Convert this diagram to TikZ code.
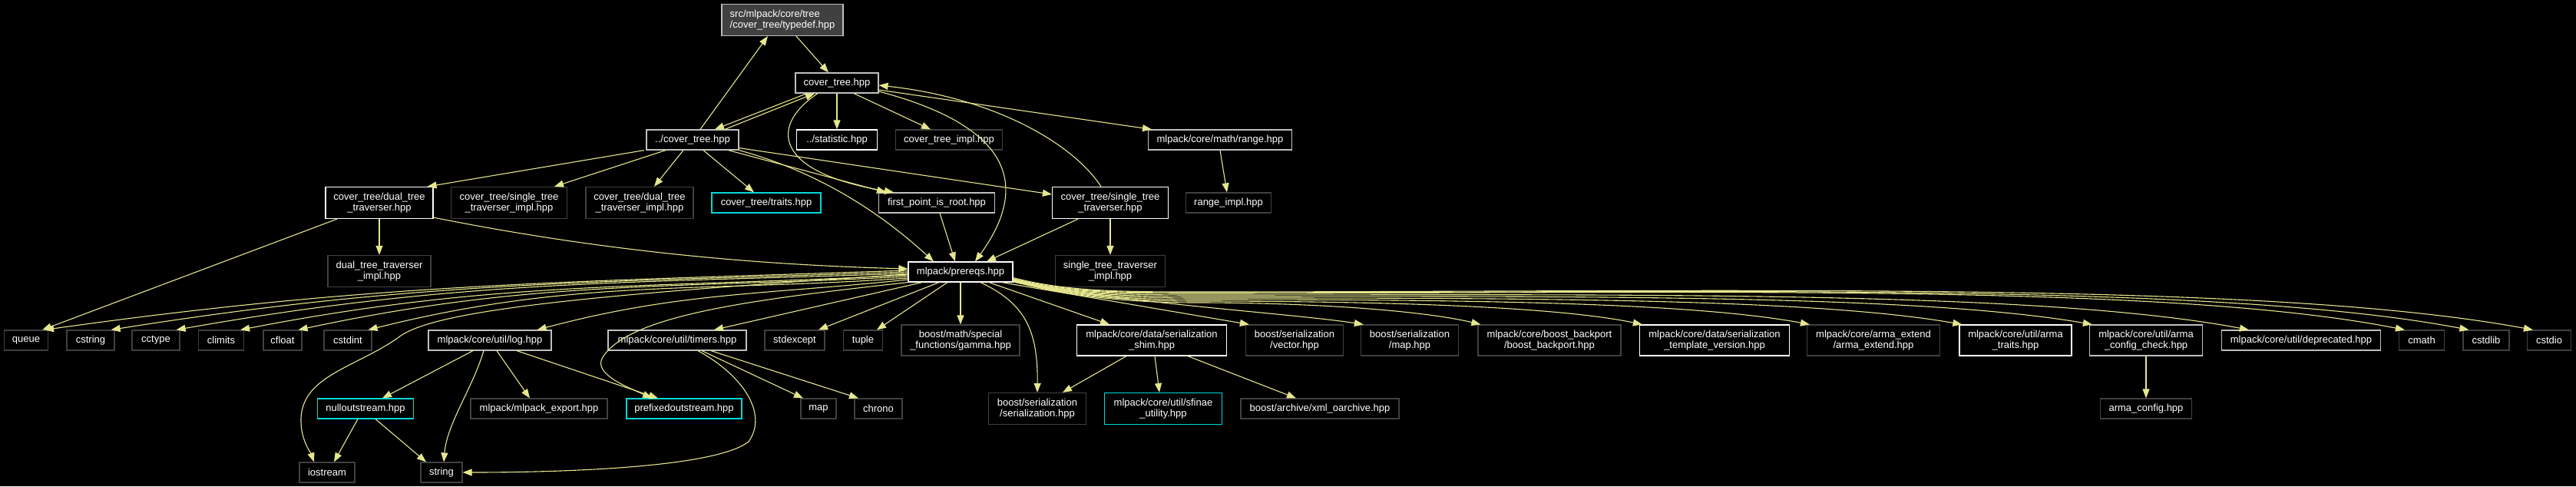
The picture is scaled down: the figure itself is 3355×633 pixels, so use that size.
\documentclass[tikz,border=0pt]{standalone}
\usepackage{fontspec}
\setmainfont{Liberation Sans}
\usetikzlibrary{arrows.meta,calc}
\definecolor{edgec}{HTML}{E6E68F}
\definecolor{gdark}{HTML}{404040}
\definecolor{glight}{HTML}{BFBFBF}
\definecolor{cyanb}{HTML}{00D8D8}
\begin{document}
\begin{tikzpicture}[x=1pt,y=1pt,
  box/.style={draw, fill=black, text=white, line width=1.2pt, inner xsep=1pt, inner ysep=1pt, minimum height=26pt, align=center, font=\fontsize{13}{14}\selectfont},
  two/.style={minimum height=41pt},
  wh/.style={draw=white}, lg/.style={draw=glight}, dk/.style={draw=gdark}, cy/.style={draw=cyanb},
  root/.style={fill=gdark, draw=glight, align=left},
  e/.style={draw=edgec, line width=1.1pt, -{Triangle[length=12pt,width=9pt]}}]
\fill[black] (0,0) rectangle (3355,-633);
\useasboundingbox (0,0) rectangle (3355,-633);
% rank 1-3
\node[box,root,two,minimum width=158pt] (typedef) at (1019,-26) {src/mlpack/core/tree\\/cover\_tree/typedef.hpp};
\node[box,lg,minimum width=108pt] (covertree) at (1090,-108) {cover\_tree.hpp};
\node[box,lg,minimum width=120pt] (ucover) at (902,-182) {../cover\_tree.hpp};
\node[box,wh,minimum width=105pt] (statistic) at (1090,-182) {../statistic.hpp};
\node[box,dk,minimum width=139pt] (ctimpl) at (1236,-182) {cover\_tree\_impl.hpp};
\node[box,lg,minimum width=187pt] (range) at (1589,-182) {mlpack/core/math/range.hpp};
% rank 4
\node[box,wh,two,minimum width=140pt] (dtt) at (494,-264) {cover\_tree/dual\_tree\\\_traverser.hpp};
\node[box,dk,two,minimum width=151pt] (stti) at (663,-264) {cover\_tree/single\_tree\\\_traverser\_impl.hpp};
\node[box,dk,two,minimum width=140pt] (dtti) at (833,-264) {cover\_tree/dual\_tree\\\_traverser\_impl.hpp};
\node[box,cy,minimum width=142pt] (traits) at (998,-264) {cover\_tree/traits.hpp};
\node[box,lg,minimum width=151pt] (fpr) at (1220,-264) {first\_point\_is\_root.hpp};
\node[box,wh,two,minimum width=151pt] (stt) at (1446,-264) {cover\_tree/single\_tree\\\_traverser.hpp};
\node[box,dk,minimum width=111pt] (rangeimpl) at (1600,-264) {range\_impl.hpp};
% rank 5
\node[box,dk,two,minimum width=134pt] (dttimpl) at (494,-353) {dual\_tree\_traverser\\\_impl.hpp};
\node[box,wh,minimum width=136pt] (prereqs) at (1251,-354) {mlpack/prereqs.hpp};
\node[box,dk,two,minimum width=143pt] (sttimpl) at (1446,-353) {single\_tree\_traverser\\\_impl.hpp};
% rank 6
\node[box,dk,minimum width=57pt] (queue) at (34,-443) {queue};
\node[box,dk,minimum width=62pt] (cstring) at (118,-443) {cstring};
\node[box,dk,minimum width=62pt] (cctype) at (203,-443) {cctype};
\node[box,dk,minimum width=59pt] (climits) at (288,-443) {climits};
\node[box,dk,minimum width=50pt] (cfloat) at (368,-443) {cfloat};
\node[box,dk,minimum width=62pt] (cstdint) at (453,-443) {cstdint};
\node[box,lg,minimum width=160pt] (log) at (638,-443) {mlpack/core/util/log.hpp};
\node[box,lg,minimum width=180pt] (timers) at (882,-443) {mlpack/core/util/timers.hpp};
\node[box,dk,minimum width=78pt] (stdexcept) at (1035,-443) {stdexcept};
\node[box,dk,minimum width=51pt] (tuple) at (1124,-443) {tuple};
\node[box,dk,minimum height=40pt,minimum width=154pt] (gamma) at (1251,-443) {boost/math/special\\\_functions/gamma.hpp};
\node[box,wh,minimum height=40pt,minimum width=195pt] (shim) at (1500,-443) {mlpack/core/data/serialization\\\_shim.hpp};
\node[box,dk,minimum height=40pt,minimum width=127pt] (vector) at (1686,-443) {boost/serialization\\/vector.hpp};
\node[box,dk,minimum height=40pt,minimum width=127pt] (bmap) at (1836,-443) {boost/serialization\\/map.hpp};
\node[box,dk,minimum height=40pt,minimum width=186pt] (backport) at (2018,-443) {mlpack/core/boost\_backport\\/boost\_backport.hpp};
\node[box,wh,minimum height=40pt,minimum width=195pt] (tplver) at (2233,-443) {mlpack/core/data/serialization\\\_template\_version.hpp};
\node[box,dk,minimum height=40pt,minimum width=173pt] (armaext) at (2440,-443) {mlpack/core/arma\_extend\\/arma\_extend.hpp};
\node[box,wh,minimum height=40pt,minimum width=146pt] (armatraits) at (2625,-443) {mlpack/core/util/arma\\\_traits.hpp};
\node[box,lg,minimum height=40pt,minimum width=147pt] (armacc) at (2795,-443) {mlpack/core/util/arma\\\_config\_check.hpp};
\node[box,lg,minimum width=207pt] (deprecated) at (2997,-443) {mlpack/core/util/deprecated.hpp};
\node[box,dk,minimum width=59pt] (cmath) at (3154,-443) {cmath};
\node[box,dk,minimum width=60pt] (cstdlib) at (3238,-443) {cstdlib};
\node[box,dk,minimum width=57pt] (cstdio) at (3320,-443) {cstdio};
% rank 7
\node[box,cy,minimum width=125pt] (nullout) at (476,-532) {nulloutstream.hpp};
\node[box,dk,minimum width=178pt] (mlexport) at (702,-532) {mlpack/mlpack\_export.hpp};
\node[box,cy,minimum width=150pt] (prefixed) at (891,-532) {prefixedoutstream.hpp};
\node[box,dk,minimum width=46pt] (map) at (1066,-532) {map};
\node[box,dk,minimum width=62pt] (chrono) at (1144,-532) {chrono};
\node[box,dk,two,minimum width=127pt] (serial) at (1351,-532) {boost/serialization\\/serialization.hpp};
\node[box,cy,two,minimum width=153pt] (sfinae) at (1515,-532) {mlpack/core/util/sfinae\\\_utility.hpp};
\node[box,dk,minimum width=206pt] (xml) at (1719,-532) {boost/archive/xml\_oarchive.hpp};
\node[box,dk,minimum width=119pt] (armaconfig) at (2795,-532) {arma\_config.hpp};
% rank 8
\node[box,dk,minimum width=72pt] (iostream) at (426,-615) {iostream};
\node[box,dk,minimum width=54pt] (string) at (575,-615) {string};

% ---- edges, top
\draw[e] ([xshift=18pt]typedef.south) -- ([xshift=-11pt]covertree.north);
\draw[e] ([xshift=10pt]ucover.north) -- ([xshift=-19pt]typedef.south);
\draw[e] ([xshift=-39pt]covertree.south) -- ([xshift=29pt]ucover.north);
\draw[e] ([xshift=42pt]ucover.north) -- ([xshift=-29pt]covertree.south);
\draw[e] (covertree.south) -- (statistic.north);
\draw[e] ([xshift=22pt]covertree.south) -- ([xshift=-24pt]ctimpl.north);
\draw[e] ([yshift=-9pt]covertree.east) -- ([xshift=-89pt]range.north);
\draw[e] ([xshift=-12pt]stt.north) .. controls (1400,-190) and (1300,-128) .. ([yshift=-3pt]covertree.east);
\draw[e] ([yshift=-11pt]covertree.east) .. controls (1300,-160) and (1350,-230) .. ([xshift=19pt]prereqs.north);
\draw[e] ([xshift=-25pt]covertree.south) .. controls (1000,-165) and (1010,-225) .. ([xshift=-56pt]fpr.north);
% from ../cover_tree.hpp
\draw[e] ([xshift=-63pt]ucover.south) -- ([xshift=-8pt]dtt.north east);
\draw[e] ([xshift=-35pt]ucover.south) -- ([xshift=59pt]stti.north);
\draw[e] ([xshift=-12pt]ucover.south) -- ([xshift=19pt]dtti.north);
\draw[e] ([xshift=14pt]ucover.south) -- ([xshift=-16pt]traits.north);
\draw[e] ([xshift=-14pt]ucover.south east) -- ([xshift=-66pt]fpr.north);
\draw[e] ([yshift=3pt]ucover.south east) -- ([yshift=11pt]stt.west);
\draw[e] (ucover.south east) .. controls (1070,-225) and (1150,-280) .. ([xshift=-35pt]prereqs.north);
% rank 4 -> 5
\draw[e] (dtt.south) -- (dttimpl.north);
\draw[e] ([yshift=2pt]dtt.south east) .. controls (800,-330) and (1000,-345) .. ([yshift=4pt]prereqs.west);
\draw[e] ([xshift=-55pt]dtt.south) -- ([xshift=-8pt]queue.north east);
\draw[e] ([xshift=4pt]fpr.south) -- ([xshift=-7pt]prereqs.north);
\draw[e] ([xshift=-42pt]stt.south) -- ([xshift=34pt]prereqs.north);
\draw[e] (stt.south) -- (sttimpl.north);
\draw[e] (range.south) -- ([xshift=-2pt]rangeimpl.north);
% prereqs left fan
\draw[e] ([yshift=2pt]prereqs.west) .. controls +(-439,-15) and +(433,61) .. ([xshift=-5pt]queue.north east);
\draw[e] ([yshift=0pt]prereqs.west) .. controls +(-407,-14) and +(402,64) .. ([xshift=-5pt]cstring.north east);
\draw[e] ([yshift=-2pt]prereqs.west) .. controls +(-374,-13) and +(368,65) .. ([xshift=-5pt]cctype.north east);
\draw[e] ([yshift=-4pt]prereqs.west) .. controls +(-341,-18) and +(335,65) .. ([xshift=-5pt]climits.north east);
\draw[e] ([yshift=-6pt]prereqs.west) .. controls +(-311,-16) and +(304,65) .. ([xshift=-5pt]cfloat.north east);
\draw[e] ([yshift=-8pt]prereqs.west) .. controls +(-275,-19) and +(268,67) .. ([xshift=-5pt]cstdint.north east);
\draw[e] ([yshift=-10pt]prereqs.west) .. controls +(-190,-20) and +(184,49) .. ([xshift=-19pt]log.north east);
\draw[e] ([yshift=-3pt]prereqs.west) .. controls (750,-385) and (560,-405) .. (518,-440) .. controls (460,-480) and (390,-490) .. (392,-550) .. controls (393,-575) and (405,-590) .. ([xshift=-17pt]iostream.north);
\draw[e] (prereqs.south west) .. controls (980,-390) and (820,-410) .. (785,-465) .. controls (771,-487) and (820,-505) .. ([xshift=-42pt]prefixed.north);
% prereqs down
\draw[e] ([xshift=-50pt]prereqs.south) -- ([xshift=48pt]timers.north);
\draw[e] ([xshift=-28pt]prereqs.south) -- ([xshift=31pt]stdexcept.north);
\draw[e] ([xshift=-17pt]prereqs.south) -- ([xshift=18pt]tuple.north);
\draw[e] (prereqs.south) -- (gamma.north);
\draw[e] ([xshift=26pt]prereqs.south) .. controls (1335,-395) and (1352,-430) .. (serial.north);
\draw[e] ([xshift=37pt]prereqs.south) -- ([xshift=-55pt]shim.north);
% prereqs right fan
\draw[e] ([xshift=-15pt]prereqs.south east) -- ([xshift=5pt]vector.north west);
\draw[e] ([yshift=0.5pt]prereqs.south east) .. controls +(150,-28) and +(-90,14) .. ([xshift=4pt]bmap.north west);
\draw[e] ([yshift=1pt]prereqs.south east) .. controls +(70,-18) and +(-100,0) .. (1560,-394) .. controls +(150,0) and +(-75,18) .. ([xshift=4pt]backport.north west);
\draw[e] ([yshift=1.5pt]prereqs.south east) .. controls +(70,-18) and +(-100,0) .. (1560,-392) .. controls +(230,0) and +(-115,24) .. ([xshift=4pt]tplver.north west);
\draw[e] ([yshift=2pt]prereqs.south east) .. controls +(70,-18) and +(-100,0) .. (1560,-390) .. controls +(320,0) and +(-160,30) .. ([xshift=4pt]armaext.north west);
\draw[e] ([yshift=2.5pt]prereqs.south east) .. controls +(70,-18) and +(-100,0) .. (1560,-388) .. controls +(400,0) and +(-200,35) .. ([xshift=4pt]armatraits.north west);
\draw[e] ([yshift=3pt]prereqs.south east) .. controls +(70,-18) and +(-100,0) .. (1560,-386) .. controls +(470,0) and +(-230,40) .. ([xshift=4pt]armacc.north west);
\draw[e] ([yshift=3.5pt]prereqs.south east) .. controls +(70,-18) and +(-100,0) .. (1560,-384) .. controls +(550,0) and +(-275,52) .. ([xshift=36pt]deprecated.north west);
\draw[e] ([yshift=4pt]prereqs.south east) .. controls +(70,-18) and +(-100,0) .. (1560,-382) .. controls +(630,0) and +(-315,62) .. ([xshift=8pt]cmath.north west);
\draw[e] ([yshift=5pt]prereqs.south east) .. controls +(70,-18) and +(-100,0) .. (1560,-381) .. controls +(660,0) and +(-330,63) .. ([xshift=8pt]cstdlib.north west);
\draw[e] ([yshift=6pt]prereqs.south east) .. controls +(70,-18) and +(-100,0) .. (1560,-380) .. controls +(700,0) and +(-350,65) .. ([xshift=8pt]cstdio.north west);
% lower
\draw[e] ([xshift=-22pt]log.south) -- ([xshift=22pt]nullout.north);
\draw[e] ([xshift=-8pt]log.south) .. controls +(-15,-50) and +(4,50) .. ([xshift=3pt]string.north);
\draw[e] ([xshift=9pt]log.south) -- ([xshift=-12pt]mlexport.north);
\draw[e] ([xshift=35pt]log.south) -- ([xshift=-34pt]prefixed.north);
\draw[e] ([xshift=-10pt]nullout.south) -- ([xshift=9pt]iostream.north);
\draw[e] ([xshift=13pt]nullout.south) -- ([xshift=-20pt]string.north);
\draw[e] ([xshift=32pt]timers.south) -- ([xshift=-20pt]map.north);
\draw[e] ([xshift=44pt]timers.south) -- ([xshift=-26pt]chrono.north);
\draw[e] ([xshift=27pt]timers.south) .. controls (970,-490) and (1000,-540) .. (975,-575) .. controls (930,-610) and (720,-615) .. (string.east);
\draw[e] ([xshift=-33pt]shim.south) -- ([xshift=33pt]serial.north);
\draw[e] ([xshift=4pt]shim.south) -- ([xshift=-5pt]sfinae.north);
\draw[e] ([xshift=47pt]shim.south) -- ([xshift=-31pt]xml.north);
\draw[e] (armacc.south) -- (armaconfig.north);
\end{tikzpicture}
\end{document}
